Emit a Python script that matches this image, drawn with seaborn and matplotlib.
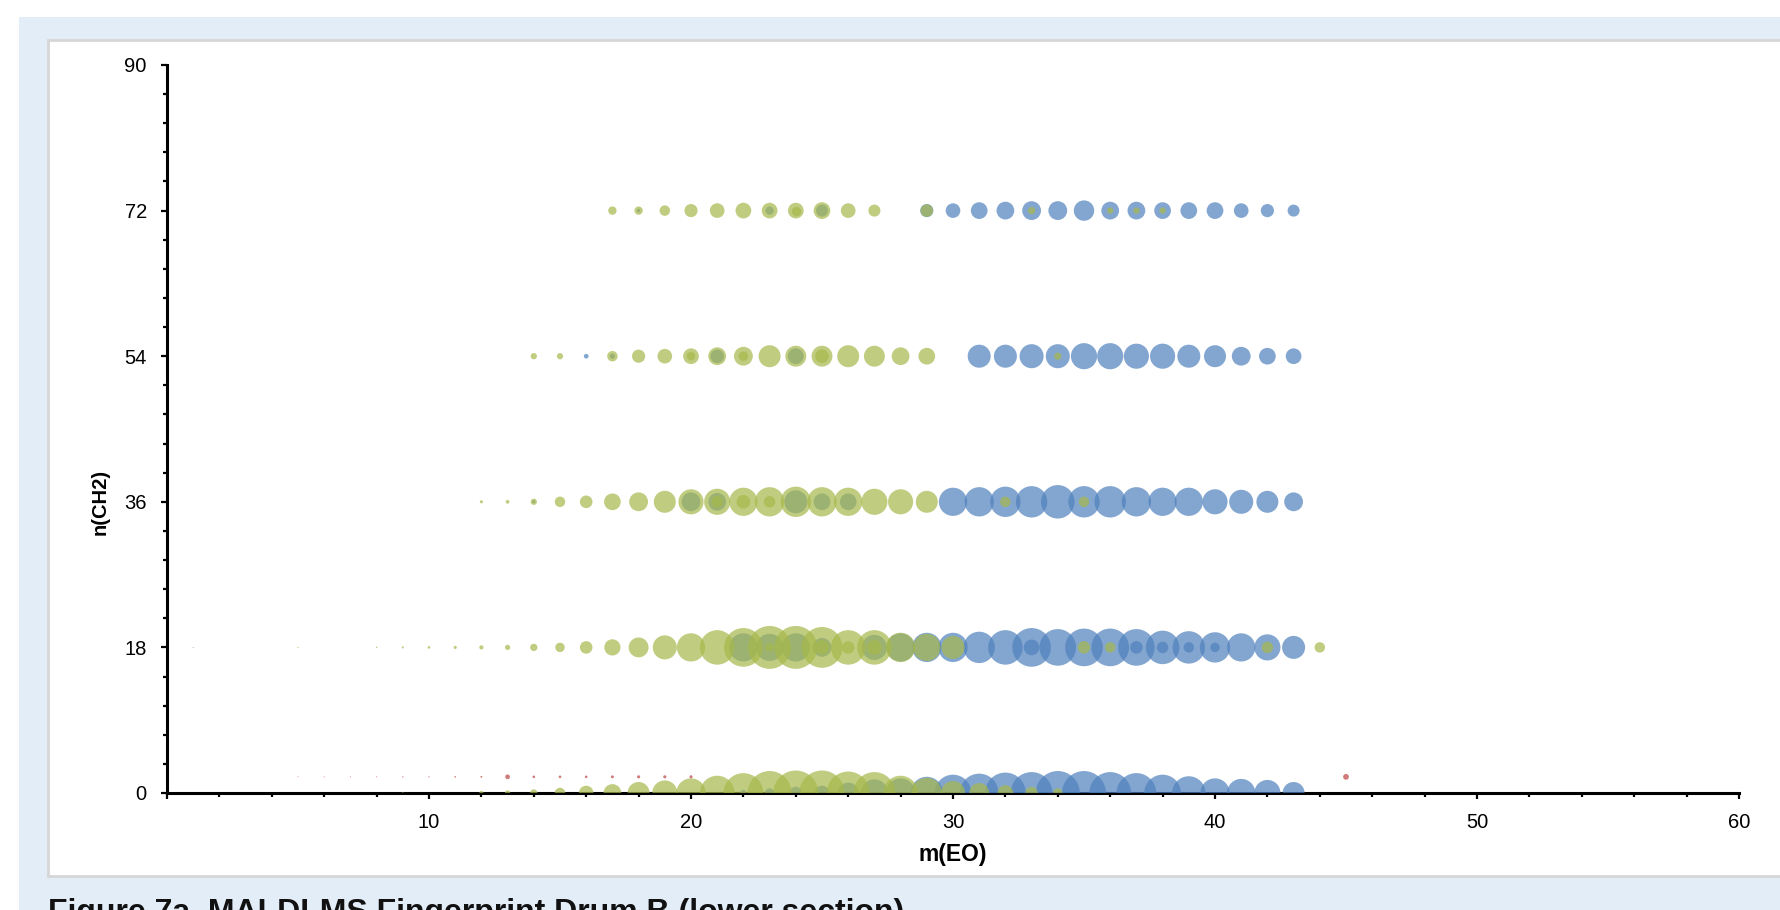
import matplotlib
matplotlib.use("Agg")
import matplotlib.pyplot as plt
from matplotlib.patches import Rectangle
from matplotlib.ticker import MultipleLocator, FixedLocator
import pandas as pd
import seaborn as sns

# ---- bubble data: EO units (x), relative intensity (bubble area) ----
# row n(CH2) = 0
green_x_0 = [9, 12, 13, 14, 15, 16, 17, 18, 19, 20, 21, 22, 23, 24, 25, 26, 27, 28, 29, 30, 31, 32, 33, 34]
green_v_0 = [0.12, 0.87, 1.35, 2.65, 5.41, 10.6, 15.6, 23.9, 31.2, 42.4, 58.9, 78.1, 95.4, 100, 100, 90.9,
             86.5, 58.9, 45.5, 28.6, 19.5, 12.2, 7.79, 4.38]
blue_x_0 = [22, 23, 24, 25, 26, 27, 28, 29, 30, 31, 32, 33, 34, 35, 36, 37, 38, 39, 40, 41, 42, 43]
blue_v_0 = [1.95, 4.38, 7.79, 10.6, 21.6, 36.6, 42.4, 52.0, 66.3, 74.0, 82.3, 86.5, 95.4, 95.4, 86.5,
            78.1, 66.3, 55.4, 42.4, 39.4, 33.8, 23.9]

# row n(CH2) = 18
green_x_18 = [5, 8, 9, 10, 11, 12, 13, 14, 15, 16, 17, 18, 19, 20, 21, 22, 23, 24, 25, 26, 27, 28, 29, 30,
              35, 36, 42, 44]
green_v_18 = [0.08, 0.12, 0.22, 0.34, 0.49, 0.87, 1.35, 2.65, 4.38, 7.79, 13.0, 19.5, 28.6, 39.4, 58.9,
              74.0, 90.9, 90.9, 82.3, 58.9, 58.9, 42.4, 36.6, 26.2, 7.79, 5.41, 6.54, 5.41]
blue_x_18 = [1, 22, 23, 24, 25, 27, 28, 29, 30, 31, 32, 33, 34, 35, 36, 37, 38, 39, 40, 41, 42, 43]
blue_v_18 = [0.05, 39.4, 36.6, 39.4, 17.5, 31.2, 39.4, 42.4, 42.4, 48.7, 58.9, 74.0, 66.3, 70.1, 70.1,
             66.3, 55.4, 52.0, 45.5, 39.4, 33.8, 26.2]
green2_x_18 = [23, 25, 26, 27]
green2_v_18 = [3.46, 10.6, 7.79, 10.6]
blue2_x_18 = [33, 37, 38, 39, 40]
blue2_v_18 = [12.2, 7.79, 6.54, 5.41, 4.38]

# row n(CH2) = 36
green_x_36 = [12, 13, 14, 15, 16, 17, 18, 19, 20, 21, 22, 23, 24, 25, 26, 27, 28, 29, 32, 35]
green_v_36 = [0.49, 0.70, 1.95, 5.41, 7.79, 13.8, 17.5, 23.9, 31.2, 33.8, 39.4, 42.4, 45.5, 42.4, 39.4,
              33.8, 31.2, 23.9, 5.41, 5.41]
blue_x_36 = [14, 20, 21, 24, 25, 26, 30, 31, 32, 33, 34, 35, 36, 37, 38, 39, 40, 41, 42, 43]
blue_v_36 = [0.49, 17.5, 15.6, 26.2, 13.8, 13.8, 39.4, 42.4, 45.5, 48.7, 55.4, 48.7, 48.7, 42.4, 39.4,
             39.4, 31.2, 28.6, 23.9, 17.5]
green2_x_36 = [21, 22, 23]
green2_v_36 = [6.54, 9.14, 6.54]

# row n(CH2) = 54
green_x_54 = [14, 15, 17, 18, 19, 20, 21, 22, 23, 24, 25, 26, 27, 28, 29, 34]
green_v_54 = [1.95, 1.95, 5.41, 8.59, 10.6, 12.2, 15.6, 17.5, 23.9, 21.6, 21.6, 23.9, 21.6, 15.6, 13.8, 2.65]
blue_x_54 = [16, 17, 21, 24, 31, 32, 33, 34, 35, 36, 37, 38, 39, 40, 41, 42, 43]
blue_v_54 = [1.1, 1.35, 9.14, 12.2, 26.2, 26.2, 28.6, 28.6, 33.8, 33.8, 31.2, 31.2, 26.2, 23.9, 17.5,
             13.8, 12.2]
green2_x_54 = [20, 22, 25]
green2_v_54 = [3.46, 4.38, 9.14]

# row n(CH2) = 72
green_x_72 = [17, 18, 19, 20, 21, 22, 23, 24, 25, 26, 27, 29, 33, 36, 37, 38]
green_v_72 = [3.46, 3.46, 5.41, 8.59, 10.6, 12.2, 12.2, 12.2, 13.8, 10.6, 7.15, 7.79, 2.65, 1.95, 1.95, 1.95]
blue_x_72 = [18, 23, 25, 29, 30, 31, 32, 33, 34, 35, 36, 37, 38, 39, 40, 41, 42, 43]
blue_v_72 = [0.66, 3.46, 7.15, 8.59, 10.6, 13.8, 15.6, 17.5, 17.5, 20.6, 15.6, 15.6, 13.8, 13.8, 13.8,
             10.6, 8.59, 7.15]
green2_x_72 = [24]
green2_v_72 = [4.38]

# red series, plotted at n(CH2) = 2
red_x = [5, 6, 7, 8, 9, 10, 11, 12, 13, 14, 15, 16, 17, 18, 19, 20, 45]
red_v = [0.05, 0.05, 0.05, 0.05, 0.08, 0.08, 0.12, 0.18, 1.1, 0.34, 0.34, 0.34, 0.42, 0.49, 0.49, 0.49, 1.64]
red_row = 2

x_ticks = [0, 10, 20, 30, 40, 50, 60]
x_labels = ["", "10", "20", "30", "40", "50", "60"]
y_ticks = [0, 18, 36, 54, 72, 90]
y_labels = ["0", "18", "36", "54", "72", "90"]

BLUE = "#4F81BD"
GREEN = "#A6B84A"
RED = "#C0504D"

W, H = 1781, 910
plt.rcParams["font.family"] = ["Liberation Sans", "DejaVu Sans"]
fig = plt.figure(figsize=(W / 100, H / 100), dpi=100)
fig.patch.set_facecolor("white")

# framed background panels
fig.patches.append(Rectangle((19 / W, 0), 1, 1 - 17 / H, transform=fig.transFigure,
                             facecolor="#E3EDF8", edgecolor="none", zorder=-3))
fig.patches.append(Rectangle((48 / W, 1 - 876 / H), 1, (876 - 40) / H, transform=fig.transFigure,
                             facecolor="white", edgecolor="#D6D6D6", linewidth=2, zorder=-2))

ax = fig.add_axes([167 / W, 1 - 793 / H, (1739 - 167) / W, (793 - 65) / H])
ax.set_facecolor("none")

SMAX = (45 * 0.72) ** 2


def bubbles(xs, row, vals, color, alpha):
    df = pd.DataFrame({"EO": xs, "CH2": [row] * len(xs), "intensity": vals})
    sns.scatterplot(data=df, x="EO", y="CH2", size="intensity", sizes=(0, SMAX), size_norm=(0, 100),
                    color=color, alpha=alpha, linewidth=0, legend=False, ax=ax, zorder=3)


layers = [
    (blue_x_0, 0, blue_v_0, BLUE), (blue_x_18, 18, blue_v_18, BLUE), (blue_x_36, 36, blue_v_36, BLUE),
    (blue_x_54, 54, blue_v_54, BLUE), (blue_x_72, 72, blue_v_72, BLUE),
    (blue2_x_18, 18, blue2_v_18, BLUE),
    (green_x_0, 0, green_v_0, GREEN), (green_x_18, 18, green_v_18, GREEN), (green_x_36, 36, green_v_36, GREEN),
    (green_x_54, 54, green_v_54, GREEN), (green_x_72, 72, green_v_72, GREEN),
    (green2_x_18, 18, green2_v_18, GREEN), (green2_x_36, 36, green2_v_36, GREEN),
    (green2_x_54, 54, green2_v_54, GREEN), (green2_x_72, 72, green2_v_72, GREEN),
    (red_x, red_row, red_v, RED),
]
for xs, row, vals, col in layers:
    bubbles(xs, row, vals, col, 0.7 if col != RED else 0.75)

ax.set_xlim(0, 60)
ax.set_ylim(0, 90)
for side in ("top", "right"):
    ax.spines[side].set_visible(False)
for side in ("left", "bottom"):
    ax.spines[side].set_linewidth(2.2)
    ax.spines[side].set_color("black")

ax.xaxis.set_major_locator(FixedLocator(x_ticks))
ax.set_xticklabels(x_labels)
ax.xaxis.set_minor_locator(MultipleLocator(2))
ax.yaxis.set_major_locator(FixedLocator(y_ticks))
ax.set_yticklabels(y_labels)
ax.yaxis.set_minor_locator(MultipleLocator(3.6))
ax.tick_params(axis="both", which="major", direction="out", length=4.5, width=1.6, pad=10,
               labelsize=14.5, colors="black")
ax.tick_params(axis="both", which="minor", direction="out", length=3, width=1.6)

ax.set_xlabel("")
ax.set_ylabel("")
fig.text((167 + 1739) / 2 / W, 1 - 854 / H, "m(EO)", ha="center", va="center", fontsize=16.5,
         fontweight="bold")
fig.text(100 / W, 1 - 502 / H, "n(CH2)", ha="center", va="center", rotation=90, fontsize=14.5,
         fontweight="bold")
fig.text(48 / W, 1 - 898 / H, "Figure 7a. MALDI-MS Fingerprint Drum B (lower section)", ha="left",
         va="top", fontsize=23, fontweight="bold", color="#111111")

fig.savefig("out.png", dpi=100)
